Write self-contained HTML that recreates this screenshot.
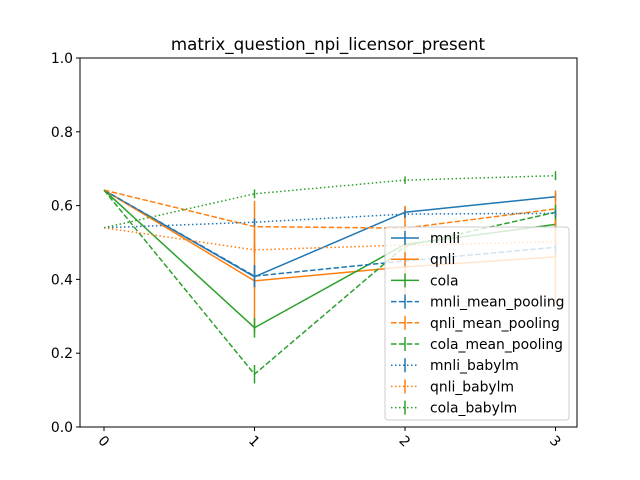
<!DOCTYPE html>
<html><head><meta charset="utf-8"><style>
body{margin:0;background:#fff;}
svg{display:block;font-family:"DejaVu Sans","Liberation Sans",sans-serif;}
</style></head><body>
<svg id="chart" width="640" height="480">
<rect x="0" y="0" width="640" height="480" fill="#fff"/>
<text x="328" y="50" text-anchor="middle" font-size="16.7">matrix_question_npi_licensor_present</text>
<g id="axes"></g>
<g id="series"></g>
<g id="legend"></g>
</svg>
<script>
const categories = [0, 1, 2, 3];
const yTicks = [0.0, 0.2, 0.4, 0.6, 0.8, 1.0];
const seriesNames = ["mnli","qnli","cola","mnli_mean_pooling","qnli_mean_pooling","cola_mean_pooling","mnli_babylm","qnli_babylm","cola_babylm"];
const mnli = [0.642, 0.407, 0.582, 0.624];
const qnli = [0.642, 0.396, 0.434, 0.461];
const cola = [0.642, 0.269, 0.495, 0.549];
const mnli_mean_pooling = [0.642, 0.409, 0.45, 0.487];
const qnli_mean_pooling = [0.642, 0.543, 0.539, 0.591];
const cola_mean_pooling = [0.642, 0.143, 0.49, 0.582];
const mnli_babylm = [0.54, 0.555, 0.577, 0.579];
const qnli_babylm = [0.54, 0.48, 0.493, 0.502];
const cola_babylm = [0.54, 0.632, 0.669, 0.681];
const mnli_err = [0, 0.03, 0.015, 0.01];
const qnli_err = [0, 0.138, 0.1, 0.12];
const cola_err = [0, 0.027, 0.015, 0.015];
const mnli_mean_pooling_err = [0, 0.03, 0.02, 0.02];
const qnli_mean_pooling_err = [0, 0.07, 0.06, 0.05];
const cola_mean_pooling_err = [0, 0.025, 0.02, 0.02];
const mnli_babylm_err = [0, 0.01, 0.01, 0.01];
const qnli_babylm_err = [0, 0.01, 0.01, 0.01];
const cola_babylm_err = [0, 0.012, 0.01, 0.012];

const NS = "http://www.w3.org/2000/svg";
const L = 80, R = 577, T = 58, B = 427;
function xs(v){ return 104 + v * 150.5; }
function ys(v){ return B - v * (B - T); }
function mk(tag, attrs, parent){
  const e = document.createElementNS(NS, tag);
  for (const k in attrs) e.setAttribute(k, attrs[k]);
  parent.appendChild(e);
  return e;
}
const axes = document.getElementById('axes');
const sg = document.getElementById('series');
const lg = document.getElementById('legend');

const frame = mk('rect', {x:L, y:T, width:R-L, height:B-T, fill:'none', stroke:'#000', 'stroke-width':1}, axes);


yTicks.forEach(t => {
  const y = ys(t);
  const tk = mk('line', {x1:L-4, x2:L, y1:y, y2:y, stroke:'#000'}, axes);
  
  
  const lb = mk('text', {x:L-7, y:y+5, 'text-anchor':'end', 'font-size':13.9}, axes);
  lb.textContent = t.toFixed(1);
  
  
});
categories.forEach(c => {
  const x = xs(c);
  const tk = mk('line', {x1:x, x2:x, y1:B, y2:B+4, stroke:'#000'}, axes);
  
  
  const lb = mk('text', {x:x, y:B+19, 'text-anchor':'middle', 'font-size':13.9, transform:`rotate(45 ${x} ${B+14})`}, axes);
  lb.textContent = String(c);
  
  
});

const colors = {mnli:'#1f77b4', qnli:'#ff7f0e', cola:'#2ca02c'};
const dashes = {'':'none', '_mean_pooling':'5.5,2.4', '_babylm':'1.5,2.5'};
const dataMap = {mnli, qnli, cola, mnli_mean_pooling, qnli_mean_pooling, cola_mean_pooling, mnli_babylm, qnli_babylm, cola_babylm};
const errMap = {mnli:mnli_err, qnli:qnli_err, cola:cola_err, mnli_mean_pooling:mnli_mean_pooling_err, qnli_mean_pooling:qnli_mean_pooling_err, cola_mean_pooling:cola_mean_pooling_err, mnli_babylm:mnli_babylm_err, qnli_babylm:qnli_babylm_err, cola_babylm:cola_babylm_err};
function styleOf(name){
  const base = name.split('_')[0];
  const suf = name.slice(base.length);
  return {color: colors[base], dash: dashes[suf]};
}
seriesNames.forEach(name => {
  const st = styleOf(name);
  const vals = dataMap[name], err = errMap[name];
  const g = mk('g', {}, sg);
  
  
  const pts = vals.map((v, i) => xs(categories[i]) + ',' + ys(v)).join(' ');
  const pl = mk('polyline', {points:pts, fill:'none', stroke:st.color, 'stroke-width':1.5, 'stroke-dasharray':st.dash}, g);
  
  
  vals.forEach((v, i) => {
    const x = xs(categories[i]);
    const eb = mk('line', {x1:x, x2:x, y1:ys(v - err[i]), y2:ys(v + err[i]), stroke:st.color, 'stroke-width':1.5}, g);
    
    
  });
});

const lbox = mk('rect', {x:385, y:227, width:184, height:193, rx:3, fill:'#fff', 'fill-opacity':0.8, stroke:'#ccc'}, lg);


seriesNames.forEach((name, i) => {
  const st = styleOf(name);
  const y = 238 + i * 21.2;
  const g = mk('g', {}, lg);
  
  
  mk('line', {x1:391, x2:419, y1:y, y2:y, stroke:st.color, 'stroke-width':1.5, 'stroke-dasharray':st.dash}, g);
  mk('line', {x1:405, x2:405, y1:y-7, y2:y+7, stroke:st.color, 'stroke-width':1.5}, g);
  const t = mk('text', {x:430, y:y+5, 'font-size':13.9}, g);
  t.textContent = name;
});
</script>
</body></html>
